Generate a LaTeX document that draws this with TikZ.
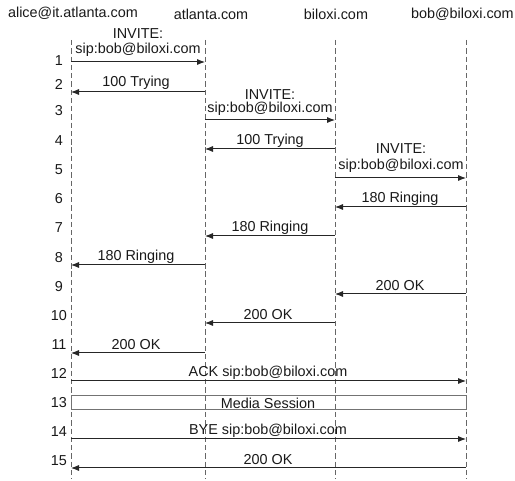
\documentclass[tikz,border=0pt]{standalone}
\usepackage{fontspec}
\setmainfont{Liberation Sans}
\usetikzlibrary{arrows.meta}
\begin{document}
\begin{tikzpicture}[x=0.75pt,y=-0.75pt,
  font=\fontsize{10.8}{12}\selectfont,
  life/.style={draw=black!60, dash pattern=on 4pt off 2.2pt, line width=0.6pt},
  msg/.style={draw=black!85, line width=0.75pt, -{Latex[length=6pt,width=4.6pt]}},
  lbl/.style={inner sep=0pt, text=black!90},
  num/.style={inner sep=0pt, text=black!90},
  hdr/.style={inner sep=0pt, text=black!90}]
\useasboundingbox (0,0) rectangle (515,481);
% headers
\node[hdr] (hA) at (73,13) {alice@it.atlanta.com};
\node[hdr] (hB) at (211,14) {atlanta.com};
\node[hdr] (hC) at (336,14) {biloxi.com};
\node[hdr, anchor=east] (hD) at (514,14) {bob@biloxi.com};
% lifelines
\coordinate (A) at (71,40);  \coordinate (Ae) at (71,479);
\coordinate (B) at (205,40); \coordinate (Be) at (205,479);
\coordinate (C) at (335,40); \coordinate (Ce) at (335,479);
\coordinate (D) at (466,40); \coordinate (De) at (466,479);
\draw[life] (A) -- (Ae);
\draw[life] (B) -- (Be);
\draw[life] (C) -- (Ce);
\draw[life] (D) -- (De);
% row coordinates
\coordinate (r1) at (0,62);
\coordinate (r2) at (0,92);
\coordinate (r3) at (0,120);
\coordinate (r4) at (0,149);
\coordinate (r5) at (0,178);
\coordinate (r6) at (0,207);
\coordinate (r7) at (0,236);
\coordinate (r8) at (0,265);
\coordinate (r9) at (0,294);
\coordinate (r10) at (0,323);
\coordinate (r11) at (0,353);
\coordinate (r12) at (0,381);
\coordinate (r14) at (0,439);
\coordinate (r15) at (0,468);
% numbers
\foreach \n/\y in {1/61,2/84,3/111,4/141,5/170,6/199,7/228,8/258,9/287,10/316,11/345,12/373,13/403,14/432,15/461}
  \node[num] (n\n) at (59,\y) {\n};
% messages
\draw[msg] (A |- r1) -- (B |- r1);
\node[lbl] (l1a) at (138,34) {INVITE:};
\node[lbl] (l1b) at (138,50) {sip:bob@biloxi.com};
\draw[msg] (B |- r2) -- (A |- r2);
\node[lbl] (l2) at (136,83) {100 Trying};
\draw[msg] (B |- r3) -- (C |- r3);
\node[lbl] (l3a) at (270,95) {INVITE:};
\node[lbl] (l3b) at (270,109) {sip:bob@biloxi.com};
\draw[msg] (C |- r4) -- (B |- r4);
\node[lbl] (l4) at (270,141) {100 Trying};
\draw[msg] (C |- r5) -- (D |- r5);
\node[lbl] (l5a) at (401,149) {INVITE:};
\node[lbl] (l5b) at (401,166) {sip:bob@biloxi.com};
\draw[msg] (D |- r6) -- (C |- r6);
\node[lbl] (l6) at (400,199) {180 Ringing};
\draw[msg] (C |- r7) -- (B |- r7);
\node[lbl] (l7) at (270,228) {180 Ringing};
\draw[msg] (B |- r8) -- (A |- r8);
\node[lbl] (l8) at (136,257) {180 Ringing};
\draw[msg] (D |- r9) -- (C |- r9);
\node[lbl] (l9) at (400,286) {200 OK};
\draw[msg] (C |- r10) -- (B |- r10);
\node[lbl] (l10) at (268,315) {200 OK};
\draw[msg] (B |- r11) -- (A |- r11);
\node[lbl] (l11) at (136,345) {200 OK};
\draw[msg] (A |- r12) -- (D |- r12);
\node[lbl] (l12) at (268,373) {ACK sip:bob@biloxi.com};
\draw[draw=black!55, line width=0.75pt] (71,396) rectangle (466,410);
\node[lbl] (l13) at (268,403) {Media Session};
\draw[msg] (A |- r14) -- (D |- r14);
\node[lbl] (l14) at (268,431) {BYE sip:bob@biloxi.com};
\draw[msg] (D |- r15) -- (A |- r15);
\node[lbl] (l15) at (268,460) {200 OK};
\end{tikzpicture}
\end{document}
